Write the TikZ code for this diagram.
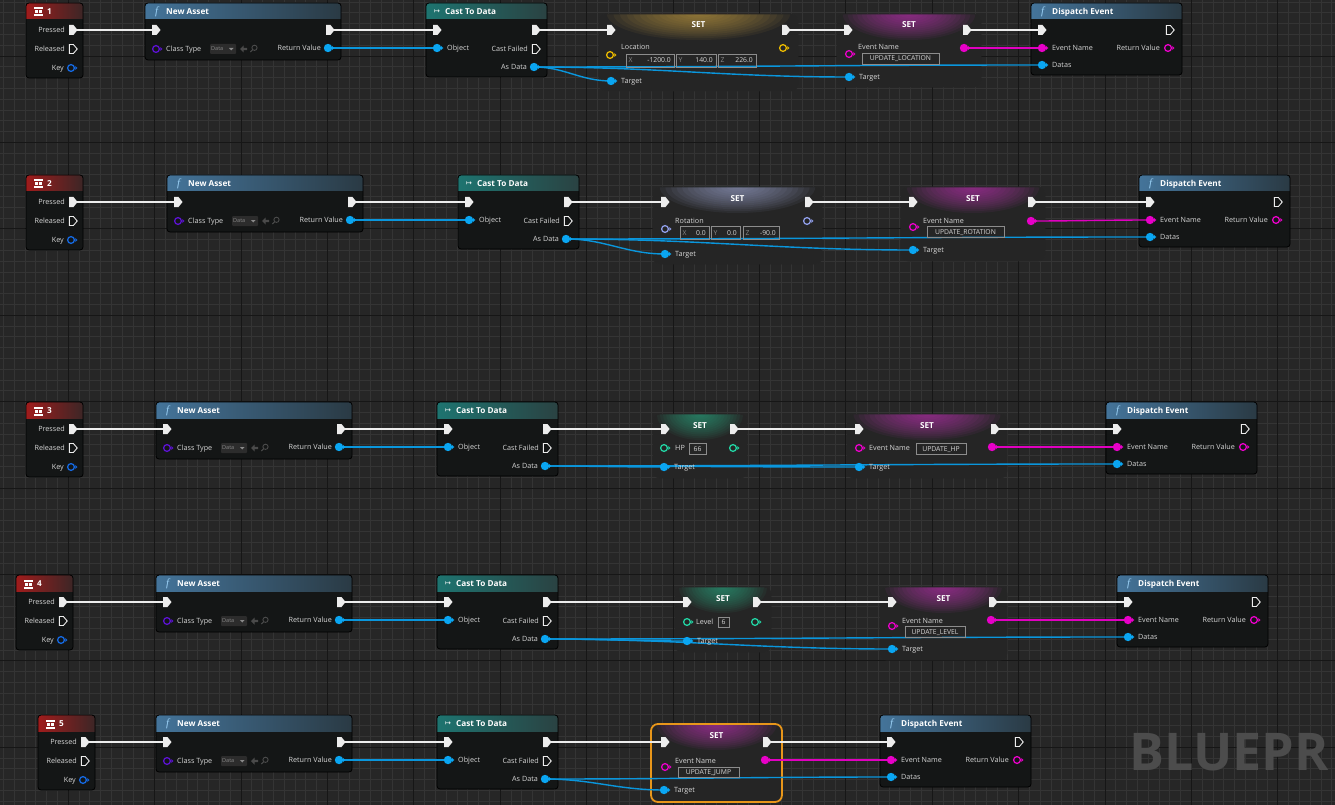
\documentclass[tikz,border=0pt]{standalone}
\usepackage{fontspec}
\setmainfont{Open Sans}
\newfontfamily\fserif{Liberation Serif}
\newfontfamily\djv{DejaVu Sans}

\pgfdeclarelayer{gridlayer}
\pgfdeclarelayer{bodylayer}
\pgfdeclarelayer{wirelayer}
\pgfsetlayers{gridlayer,bodylayer,wirelayer,main}

\definecolor{bgc}{HTML}{262626}
\definecolor{gridminor}{HTML}{343434}
\definecolor{gridmajor}{HTML}{161616}
\definecolor{fnbodyc}{HTML}{141616}
\definecolor{setbodyc}{HTML}{252525}
\definecolor{labelc}{HTML}{D6D6D6}
\definecolor{axc}{HTML}{8A8A8A}
\definecolor{wblue}{HTML}{0A96DC}
\definecolor{pblue}{HTML}{0AA6F2}
\definecolor{pkey}{HTML}{1468E0}
\definecolor{pclass}{HTML}{5B12D0}
\definecolor{pgold}{HTML}{E8B800}
\definecolor{plav}{HTML}{8E9CE6}
\definecolor{pint}{HTML}{22D2A2}
\definecolor{pmag}{HTML}{E800C8}
\definecolor{wmag}{HTML}{E000C0}
\definecolor{execc}{HTML}{EDEDED}
\definecolor{boxc}{HTML}{8C8C8C}
\definecolor{selc}{HTML}{E8961A}
\definecolor{keyL}{HTML}{A01C1C}
\definecolor{keyR}{HTML}{3C2626}
\definecolor{fnL}{HTML}{44749A}
\definecolor{fnR}{HTML}{2A3A44}
\definecolor{castL}{HTML}{1E7470}
\definecolor{castR}{HTML}{2A4242}
\definecolor{gGold}{HTML}{D0A848}
\definecolor{gMag}{HTML}{C838BC}
\definecolor{gLav}{HTML}{A8B0DC}
\definecolor{gTeal}{HTML}{34B088}
\definecolor{ficonc}{HTML}{9AD0F5}
\definecolor{ddbox}{HTML}{2C2C2C}
\definecolor{ddtxt}{HTML}{8A8A8A}
\definecolor{iconc}{HTML}{4A4A4A}
\definecolor{bpc}{HTML}{4C4C4C}

\tikzset{
 lbl/.style={font=\fontsize{7.2}{8}\selectfont, text=labelc, inner sep=0pt, text height=5pt, text depth=0pt},
 ttl/.style={font=\fontsize{8.2}{9}\selectfont\bfseries, text=white, inner sep=0pt, text height=6pt, text depth=0pt},
 ficon/.style={font=\fserif\itshape\fontsize{11}{11}\selectfont, text=ficonc, inner sep=0pt},
 boxtxt/.style={font=\fontsize{6.8}{8}\selectfont, text=labelc, inner sep=0pt, text height=5pt, text depth=0pt},
 axtxt/.style={boxtxt, text=axc},
 fnfill/.style={fill=fnbodyc, draw=none, inner sep=0pt, outer sep=0pt, rounded corners=3pt},
 setfill/.style={fill=setbodyc, draw=none, inner sep=0pt, outer sep=0pt, rounded corners=7pt},
 setborder/.style={draw=black!85, line width=0.8pt},
 selborder/.style={draw=selc, line width=1.8pt},
 ewire/.style={execc, line width=2pt},
 bwire/.style={wblue, line width=1.4pt},
 mwire/.style={wmag, line width=1.4pt},
 execf/.pic={\fill[execc] (-4,-5) -- (0.5,-5) -- (4.5,0) -- (0.5,5) -- (-4,5) -- cycle;},
 execo/.pic={\draw[execc,line width=0.9pt] (-3.6,-4.5) -- (0.4,-4.5) -- (4.2,0) -- (0.4,4.5) -- (-3.6,4.5) -- cycle;},
 dataf/.pic={\fill[#1] (0,0) circle (4.2); \fill[#1] (4,-2) -- (6.3,0) -- (4,2) -- cycle;},
 datao/.pic={\draw[#1,line width=1.3pt] (0,0) circle (3.4); \fill[#1] (4.3,-2) -- (6.5,0) -- (4.3,2) -- cycle;},
}

\newcommand\fnframe[7]{%
 \begin{pgfonlayer}{bodylayer}
  \node[fnfill, minimum width=#4pt, minimum height=#5pt, anchor=north west] (#1) at (#2,#3) {};
  \begin{scope}
   \clip[rounded corners=3pt] (#2,#3) rectangle ++(#4,#5);
   \shade[left color=#6, right color=#7] (#2,#3) rectangle ++(#4,16);
  \end{scope}
  \draw[black, line width=0.8pt, rounded corners=3pt] (#2,#3) rectangle ++(#4,#5);
 \end{pgfonlayer}}

\newcommand\setframe[7]{%
 \begin{pgfonlayer}{bodylayer}
  \node[setfill, minimum width=#4pt, minimum height=#5pt, anchor=north west] (#1) at (#2,#3) {};
  \begin{scope}
   \clip[rounded corners=7pt] (#2,#3) rectangle ++(#4,#5);
   \foreach \k in {1,...,14}
     \fill[#6, opacity=0.065] ({#2+#4/2},#3) ellipse [x radius={#4*0.46*\k/14}, y radius={26*\k/14}];
  \end{scope}
  \draw[#7, rounded corners=7pt] (#2,#3) rectangle ++(#4,#5);
 \end{pgfonlayer}
 \node[ttl] at ({#2+#4/2},{#3+11}) {SET};}

\newcommand\valbox[5]{%
 \draw[boxc,line width=0.6pt] (#1,#2) rectangle (#3,#4);
 \node[boxtxt] at ({(#1+#3)/2},{(#2+#4)/2}) {#5};}

\newcommand\xyzbox[6]{%
 \draw[boxc,line width=0.6pt] (#1,#2) rectangle (#3,#4);
 \node[axtxt,anchor=west] at ({#1+2.5},{(#2+#4)/2}) {#5};
 \node[boxtxt,anchor=east] at ({#3-3},{(#2+#4)/2}) {#6};}

\newcommand\keynode[4]{%
 \fnframe{#1}{#2}{#3}{57}{75}{keyL}{keyR}
 \fill[white] (#2+8,#3+4.5) rectangle ++(9,2);
 \fill[white] (#2+9,#3+7.5) rectangle ++(3,3);
 \fill[white] (#2+13,#3+7.5) rectangle ++(3,3);
 \fill[white] (#2+8,#3+11.5) rectangle ++(9,2);
 \node[ttl,anchor=west] at (#2+21,#3+8.5) {#4};
 \coordinate (#1-p) at (#2+47,#3+27);
 \coordinate (#1-r) at (#2+47,#3+46);
 \coordinate (#1-k) at (#2+45,#3+65);
 \pic at (#1-p) {execf};
 \pic at (#1-r) {execo};
 \pic at (#1-k) {datao=pkey};
 \node[lbl,anchor=east] at (#2+39,#3+27) {Pressed};
 \node[lbl,anchor=east] at (#2+39,#3+46) {Released};
 \node[lbl,anchor=east] at (#2+38,#3+65) {Key};}

\newcommand\newasset[3]{%
 \fnframe{#1}{#2}{#3}{196}{57}{fnL}{fnR}
 \node[ficon,anchor=west] at (#2+10,#3+8.5) {f};
 \node[ttl,anchor=west] at (#2+21,#3+8.5) {New Asset};
 \coordinate (#1-in) at (#2+11,#3+27);
 \coordinate (#1-out) at (#2+185,#3+27);
 \coordinate (#1-ct) at (#2+11,#3+46);
 \coordinate (#1-rv) at (#2+183,#3+45);
 \pic at (#1-in) {execf};
 \pic at (#1-out) {execf};
 \pic at (#1-ct) {datao=pclass};
 \pic at (#1-rv) {dataf=pblue};
 \node[lbl,anchor=west] at (#2+21,#3+46) {Class Type};
 \fill[ddbox,rounded corners=1pt] (#2+65,#3+41) rectangle ++(26,10);
 \node[anchor=west,inner sep=0pt,font=\fontsize{5.5}{6}\selectfont,text=ddtxt] at (#2+66,#3+45.5) {Data};
 \fill[ddtxt] (#2+84,#3+45) -- ++(4.5,0) -- ++(-2.25,2.5) -- cycle;
 \fill[iconc] (#2+95,#3+46) -- ++(3.5,-3.5) -- ++(0,2.3) -- ++(3.5,0) -- ++(0,2.4) -- ++(-3.5,0) -- ++(0,2.3) -- cycle;
 \draw[iconc,line width=0.9pt] (#2+109.5,#3+44.8) circle (2.6);
 \draw[iconc,line width=1.1pt] (#2+107.6,#3+46.7) -- ++(-2.3,2.3);
 \node[lbl,anchor=east] at (#2+176,#3+45) {Return Value};}

\newcommand\castnode[3]{%
 \fnframe{#1}{#2}{#3}{121}{74}{castL}{castR}
 \node[anchor=west,inner sep=0pt,font=\djv\fontsize{7}{7}\selectfont,text=white] at (#2+8,#3+8.5) {↦};
 \node[ttl,anchor=west] at (#2+19,#3+8.5) {Cast To Data};
 \coordinate (#1-in) at (#2+11,#3+27);
 \coordinate (#1-out) at (#2+110,#3+27);
 \coordinate (#1-obj) at (#2+11,#3+45);
 \coordinate (#1-cf) at (#2+110,#3+46);
 \coordinate (#1-ad) at (#2+108,#3+64);
 \pic at (#1-in) {execf};
 \pic at (#1-out) {execf};
 \pic at (#1-obj) {dataf=pblue};
 \pic at (#1-cf) {execo};
 \pic at (#1-ad) {dataf=pblue};
 \node[lbl,anchor=west] at (#2+21,#3+45) {Object};
 \node[lbl,anchor=east] at (#2+102,#3+46) {Cast Failed};
 \node[lbl,anchor=east] at (#2+101,#3+64) {As Data};}

\newcommand\dispatch[3]{%
 \fnframe{#1}{#2}{#3}{151}{72}{fnL}{fnR}
 \node[ficon,anchor=west] at (#2+10,#3+8.5) {f};
 \node[ttl,anchor=west] at (#2+21,#3+8.5) {Dispatch Event};
 \coordinate (#1-in) at (#2+11,#3+27);
 \coordinate (#1-out) at (#2+139,#3+27);
 \coordinate (#1-en) at (#2+11,#3+45);
 \coordinate (#1-rv) at (#2+137,#3+45);
 \coordinate (#1-da) at (#2+11,#3+62);
 \pic at (#1-in) {execf};
 \pic at (#1-out) {execo};
 \pic at (#1-en) {dataf=pmag};
 \pic at (#1-rv) {datao=pmag};
 \pic at (#1-da) {dataf=pblue};
 \node[lbl,anchor=west] at (#2+21,#3+45) {Event Name};
 \node[lbl,anchor=east] at (#2+129,#3+45) {Return Value};
 \node[lbl,anchor=west] at (#2+21,#3+62) {Datas};}

% generic SET pins: name, in, out, value-in, value-out, target, extra pics
\newcommand\setpins[7]{%
 \coordinate (#1-in) at (#2); \coordinate (#1-out) at (#3);
 \coordinate (#1-v) at (#4); \coordinate (#1-o) at (#5); \coordinate (#1-t) at (#6);
 \pic at (#1-in) {execf}; \pic at (#1-out) {execf};
 \pic at (#1-t) {dataf=pblue};
 #7}

\begin{document}
\begin{tikzpicture}[x=1pt,y=-1pt]
\useasboundingbox (0,0) rectangle (1335,805);
\begin{pgfonlayer}{gridlayer}
 \fill[bgc] (0,0) rectangle (1335,805);
 \foreach \i in {0,...,123} \draw[gridminor,line width=0.9pt] ({3.5+10.8*\i},0) -- ++(0,805);
 \foreach \j in {0,...,74} \draw[gridminor,line width=0.9pt] (0,{2.1+10.8*\j}) -- ++(1335,0);
 \foreach \i in {0,...,14} \draw[gridmajor,line width=1pt] ({68.3+86.4*\i},0) -- ++(0,805);
 \foreach \j in {0,...,8} \draw[gridmajor,line width=1pt] (0,{56.1+86.4*\j}) -- ++(1335,0);
 \node[anchor=base west,inner sep=0pt,font=\bfseries\fontsize{52}{52}\selectfont,text=bpc] (wm) at (1129,770) {BLUEPR};
\end{pgfonlayer}

% ---------------- Row 1 ----------------
\keynode{k1}{26}{3}{1}
\newasset{na1}{145}{3}
\castnode{c1}{426}{3}
\setframe{s1a}{599}{14}{199}{77}{gGold}{setborder}
\setpins{s1a}{611,30}{786,30}{610,55}{783,48}{611,81}{%
 \pic at (s1a-v) {datao=pgold}; \pic at (s1a-o) {datao=pgold};}
\node[lbl,anchor=west] at (621,47) {Location};
\node[lbl,anchor=west] at (621,81) {Target};
\xyzbox{626}{54}{674}{67}{X}{-1200.0}
\xyzbox{676}{54}{716}{67}{Y}{140.0}
\xyzbox{718}{54}{756}{67}{Z}{226.0}
\setframe{s1b}{837}{14}{144}{73}{gMag}{setborder}
\setpins{s1b}{848,30}{967,30}{849,54}{964,48}{849,77}{%
 \pic at (s1b-v) {datao=pmag}; \pic at (s1b-o) {dataf=pmag};}
\node[lbl,anchor=west] at (858,47) {Event Name};
\node[lbl,anchor=west] at (859,77) {Target};
\valbox{862}{53}{939}{64}{UPDATE\_LOCATION}
\dispatch{d1}{1031}{3}

% ---------------- Row 2 ----------------
\keynode{k2}{26}{175}{2}
\newasset{na2}{167}{175}
\castnode{c2}{458}{175}
\setframe{s2a}{653}{187}{169}{77}{gLav}{setborder}
\setpins{s2a}{665,202}{809,202}{665,229}{807,221}{665,254}{%
 \pic at (s2a-v) {datao=plav}; \pic at (s2a-o) {datao=plav};}
\node[lbl,anchor=west] at (675,221) {Rotation};
\node[lbl,anchor=west] at (675,254) {Target};
\xyzbox{680}{226}{709}{239}{X}{0.0}
\xyzbox{711}{226}{740}{239}{Y}{0.0}
\xyzbox{743}{226}{779}{239}{Z}{-90.0}
\setframe{s2b}{901}{187}{144}{74}{gMag}{setborder}
\setpins{s2b}{913,202}{1032,202}{913,227}{1031,221}{913,250}{%
 \pic at (s2b-v) {datao=pmag}; \pic at (s2b-o) {dataf=pmag};}
\node[lbl,anchor=west] at (923,221) {Event Name};
\node[lbl,anchor=west] at (923,250) {Target};
\valbox{927}{226}{1004}{237}{UPDATE\_ROTATION}
\dispatch{d2}{1139}{175}

% ---------------- Row 3 ----------------
\keynode{k3}{26}{402}{3}
\newasset{na3}{156}{402}
\castnode{c3}{437}{402}
\setframe{s3a}{653}{414}{94}{64}{gTeal}{setborder}
\setpins{s3a}{665,429}{734,429}{664,448}{733,448}{664,467}{%
 \pic at (s3a-v) {datao=pint}; \pic at (s3a-o) {datao=pint};}
\node[lbl,anchor=west] at (675,448) {HP};
\node[lbl,anchor=west] at (674,467) {Target};
\valbox{689}{443}{706}{454}{66}
\setframe{s3b}{847}{414}{160}{64}{gMag}{setborder}
\setpins{s3b}{859,429}{995,429}{859,448}{992,447}{859,467}{%
 \pic at (s3b-v) {datao=pmag}; \pic at (s3b-o) {dataf=pmag};}
\node[lbl,anchor=west] at (869,448) {Event Name};
\node[lbl,anchor=west] at (869,467) {Target};
\valbox{916}{443}{966}{454}{UPDATE\_HP}
\dispatch{d3}{1106}{402}

% ---------------- Row 4 ----------------
\keynode{k4}{16}{575}{4}
\newasset{na4}{156}{575}
\castnode{c4}{437}{575}
\setframe{s4a}{675}{587}{96}{65}{gTeal}{setborder}
\setpins{s4a}{687,602}{757,602}{687,622}{755,622}{687,641}{%
 \pic at (s4a-v) {datao=pint}; \pic at (s4a-o) {datao=pint};}
\node[lbl,anchor=west] at (696,622) {Level};
\node[lbl,anchor=west] at (697,641) {Target};
\valbox{718}{617}{729}{627}{6}
\setframe{s4b}{880}{587}{127}{73}{gMag}{setborder}
\setpins{s4b}{892,602}{993,602}{892,626}{991,620}{892,649}{%
 \pic at (s4b-v) {datao=pmag}; \pic at (s4b-o) {dataf=pmag};}
\node[lbl,anchor=west] at (902,621) {Event Name};
\node[lbl,anchor=west] at (902,649) {Target};
\valbox{905}{626}{965}{637}{UPDATE\_LEVEL}
\dispatch{d4}{1117}{575}

% ---------------- Row 5 ----------------
\keynode{k5}{38}{715}{5}
\newasset{na5}{156}{715}
\castnode{c5}{437}{715}
\setframe{s5}{651}{724}{131}{78}{gMag}{selborder}
\setpins{s5}{665,742}{767,742}{665,767}{765,760}{664,790}{%
 \pic at (s5-v) {datao=pmag}; \pic at (s5-o) {dataf=pmag};}
\node[lbl,anchor=west] at (675,761) {Event Name};
\node[lbl,anchor=west] at (674,790) {Target};
\valbox{678}{767}{739}{777}{UPDATE\_JUMP}
\dispatch{d5}{880}{715}

% ---------------- Wires ----------------
\begin{pgfonlayer}{wirelayer}
 \foreach \r/\a/\b in {1/s1a/s1b,2/s2a/s2b,3/s3a/s3b,4/s4a/s4b}{
  \draw[ewire] (k\r-p) -- (na\r-in);
  \draw[ewire] (na\r-out) -- (c\r-in);
  \draw[ewire] (c\r-out) -- (\a-in);
  \draw[ewire] (\a-out) -- (\b-in);
  \draw[ewire] (\b-out) -- (d\r-in);
  \draw[bwire] (na\r-rv) -- (c\r-obj);
  \draw[bwire] (c\r-ad) to[out=0,in=180] (\a-t);
  \draw[bwire] (c\r-ad) to[out=0,in=180] (\b-t);
  \draw[bwire] (c\r-ad) to[out=0,in=180] (d\r-da);
  \draw[mwire] (\b-o) to[out=0,in=180] (d\r-en);
 }
 \draw[ewire] (k5-p) -- (na5-in);
 \draw[ewire] (na5-out) -- (c5-in);
 \draw[ewire] (c5-out) -- (s5-in);
 \draw[ewire] (s5-out) -- (d5-in);
 \draw[bwire] (na5-rv) -- (c5-obj);
 \draw[bwire] (c5-ad) to[out=0,in=180] (s5-t);
 \draw[bwire] (c5-ad) to[out=0,in=180] (d5-da);
 \draw[mwire] (s5-o) to[out=0,in=180] (d5-en);
\end{pgfonlayer}
\end{tikzpicture}
\end{document}
